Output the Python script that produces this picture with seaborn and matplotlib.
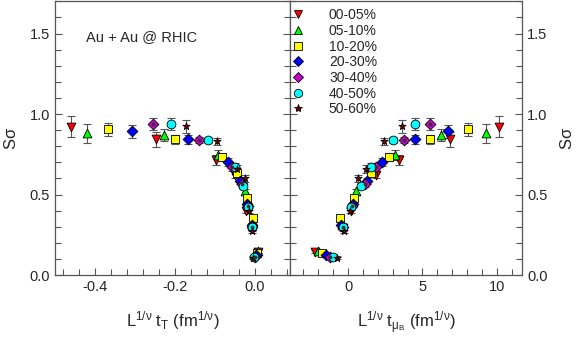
import numpy as np
import pandas as pd
import matplotlib
matplotlib.use("Agg")
import matplotlib.pyplot as plt
import seaborn as sns
from matplotlib.ticker import MultipleLocator
from matplotlib.lines import Line2D

sns.set_theme(style="white")
plt.rcParams['font.family'] = ['Liberation Sans', 'DejaVu Sans']
plt.rcParams['mathtext.fontset'] = 'custom'
plt.rcParams['mathtext.rm'] = 'Liberation Sans'
plt.rcParams['mathtext.it'] = 'Liberation Sans'

# Centralities
centralities = ['00-05%', '05-10%', '10-20%', '20-30%', '30-40%', '40-50%', '50-60%']

# S_sigma for each centrality (7 beam energies, low -> high)
s_sigma = {
    '00-05%': [0.92, 0.843, 0.714, 0.62, 0.40, 0.29, 0.145],
    '05-10%': [0.88, 0.87, 0.745, 0.65, 0.52, 0.31, 0.15],
    '10-20%': [0.905, 0.843, 0.735, 0.635, 0.48, 0.352, 0.14],
    '20-30%': [0.894, 0.843, 0.70, 0.585, 0.44, 0.31, 0.124],
    '30-40%': [0.938, 0.838, 0.673, 0.565, 0.43, 0.30, 0.114],
    '40-50%': [0.938, 0.838, 0.673, 0.553, 0.42, 0.296, 0.114],
    '50-60%': [0.925, 0.83, 0.657, 0.60, 0.40, 0.275, 0.108],
}

# errors on S_sigma
s_err = {
    '00-05%': [0.065, 0.045, 0.03, 0.02, 0.015, 0.015, 0.01],
    '05-10%': [0.06, 0.04, 0.03, 0.02, 0.015, 0.015, 0.01],
    '10-20%': [0.04, 0.03, 0.025, 0.02, 0.015, 0.015, 0.01],
    '20-30%': [0.04, 0.03, 0.025, 0.02, 0.015, 0.015, 0.01],
    '30-40%': [0.04, 0.02, 0.025, 0.02, 0.015, 0.015, 0.01],
    '40-50%': [0.04, 0.02, 0.025, 0.02, 0.015, 0.015, 0.01],
    '50-60%': [0.04, 0.02, 0.025, 0.02, 0.015, 0.015, 0.01],
}

# L^{1/nu} t_T
t_T = {
    '00-05%': [-0.46, -0.248, -0.098, -0.05, -0.022, -0.007, 0.008],
    '05-10%': [-0.42, -0.227, -0.092, -0.047, -0.025, -0.007, 0.007],
    '10-20%': [-0.368, -0.20, -0.082, -0.044, -0.021, -0.006, 0.006],
    '20-30%': [-0.307, -0.167, -0.068, -0.0375, -0.019, -0.008, 0.003],
    '30-40%': [-0.254, -0.139, -0.058, -0.032, -0.018, -0.008, 0.0],
    '40-50%': [-0.21, -0.117, -0.05, -0.029, -0.017, -0.008, -0.002],
    '50-60%': [-0.1725, -0.096, -0.045, -0.025, -0.015, -0.008, -0.004],
}

# L^{1/nu} t_muB
t_muB = {
    '00-05%': [10.15, 6.87, 3.46, 1.88, 0.18, -0.35, -2.24],
    '05-10%': [9.28, 6.25, 3.15, 1.70, 0.52, -0.40, -2.0],
    '10-20%': [8.07, 5.48, 2.75, 1.53, 0.43, -0.56, -1.73],
    '20-30%': [6.69, 4.50, 2.27, 1.30, 0.36, -0.45, -1.48],
    '30-40%': [5.50, 3.73, 1.88, 1.15, 0.30, -0.35, -1.23],
    '40-50%': [4.50, 3.05, 1.53, 0.86, 0.18, -0.32, -0.99],
    '50-60%': [3.66, 2.45, 1.24, 0.70, 0.15, -0.27, -0.76],
}

colors = {'00-05%': '#ff0000', '05-10%': '#00ff00', '10-20%': '#ffff00', '20-30%': '#0000ff',
          '30-40%': '#cc00cc', '40-50%': '#00ffff', '50-60%': '#800000'}
markers = {'00-05%': 'v', '05-10%': '^', '10-20%': 's', '20-30%': 'D',
           '30-40%': 'D', '40-50%': 'o', '50-60%': '*'}
sizes = {'00-05%': 40, '05-10%': 40, '10-20%': 38, '20-30%': 30,
         '30-40%': 30, '40-50%': 40, '50-60%': 30}

df = pd.concat([pd.DataFrame({'cent': c, 'ssig': s_sigma[c], 'err': s_err[c],
                              'tT': t_T[c], 'tmuB': t_muB[c]}) for c in centralities])

fig = plt.figure(figsize=(5.81, 3.40), dpi=100)
ax1 = fig.add_axes([0.0947, 0.191, 0.4045, 0.805])
ax2 = fig.add_axes([0.4992, 0.191, 0.3993, 0.805])

for ax, xcol in [(ax1, 'tT'), (ax2, 'tmuB')]:
    for c in centralities:
        d = df[df.cent == c]
        ax.errorbar(d[xcol], d['ssig'], yerr=d['err'], fmt='none', ecolor='#555555',
                    elinewidth=0.8, capsize=3.2, capthick=0.8, zorder=2)
    for c in centralities:
        d = df[df.cent == c]
        sns.scatterplot(x=d[xcol], y=d['ssig'], marker=markers[c], color=colors[c], s=sizes[c],
                        edgecolor='black', linewidth=0.6, ax=ax, zorder=3, legend=False)
        if c == '30-40%':
            ax.scatter(d[xcol], d['ssig'], s=3, color='#333333', zorder=4)

ax1.set_xlim(-0.5, 0.0875)
ax2.set_xlim(-3.9, 11.7)
for ax in (ax1, ax2):
    ax.set_ylim(0, 1.7)
    ax.yaxis.set_major_locator(MultipleLocator(0.5))
    ax.yaxis.set_minor_locator(MultipleLocator(0.1))
    ax.tick_params(which='both', direction='in', left=True, right=True, bottom=True, top=False,
                   labelsize=10.5, color='#555555')
    ax.tick_params(which='major', length=5, width=0.8)
    ax.tick_params(which='minor', length=4, width=0.8)
    for sp in ax.spines.values():
        sp.set_color('#555555')
        sp.set_linewidth(0.9)

ax1.xaxis.set_major_locator(MultipleLocator(0.2))
ax1.xaxis.set_minor_locator(MultipleLocator(0.04))
ax1.set_xticks([-0.4, -0.2, 0.0])
ax1.set_xticklabels(['-0.4', '-0.2', '0.0'])
ax2.xaxis.set_major_locator(MultipleLocator(5))
ax2.xaxis.set_minor_locator(MultipleLocator(1))

ax1.set_yticks([0.0, 0.5, 1.0, 1.5])
ax1.set_yticklabels(['0.0', '0.5', '1.0', '1.5'])
ax2.set_yticks([0.0, 0.5, 1.0, 1.5])
ax2.set_yticklabels(['0.0', '0.5', '1.0', '1.5'])
ax2.tick_params(axis='y', labelleft=False, labelright=True)

ax1.set_xlabel(r'L$^{1/\nu}$ t$_T$ (fm$^{1/\nu}$)', fontsize=12, labelpad=11)
ax2.set_xlabel(r'L$^{1/\nu}$ t$_{\mu_B}$ (fm$^{1/\nu}$)', fontsize=12, labelpad=11)
ax1.set_ylabel(r'S$\sigma$', fontsize=12, labelpad=8)
ax2.yaxis.set_label_position('right')
ax2.set_ylabel(r'S$\sigma$', fontsize=12, labelpad=8)

ax1.text(0.13, 0.855, 'Au + Au @ RHIC', transform=ax1.transAxes, fontsize=10.5)

handles = []
for c in centralities:
    ms = 6 if c != '50-60%' else 6
    h = Line2D([], [], linestyle='none', marker=markers[c], markerfacecolor=colors[c],
               markeredgecolor='black', markeredgewidth=0.6, markersize=ms - (1 if markers[c] == 'D' else 0))
    handles.append(h)
leg = ax2.legend(handles, centralities, loc='upper left', frameon=False, fontsize=10,
                 handletextpad=1.6, labelspacing=0.12, borderaxespad=0.1,
                 bbox_to_anchor=(-0.03, 1.0), handlelength=1.2)

fig.savefig('out.png', dpi=100)
